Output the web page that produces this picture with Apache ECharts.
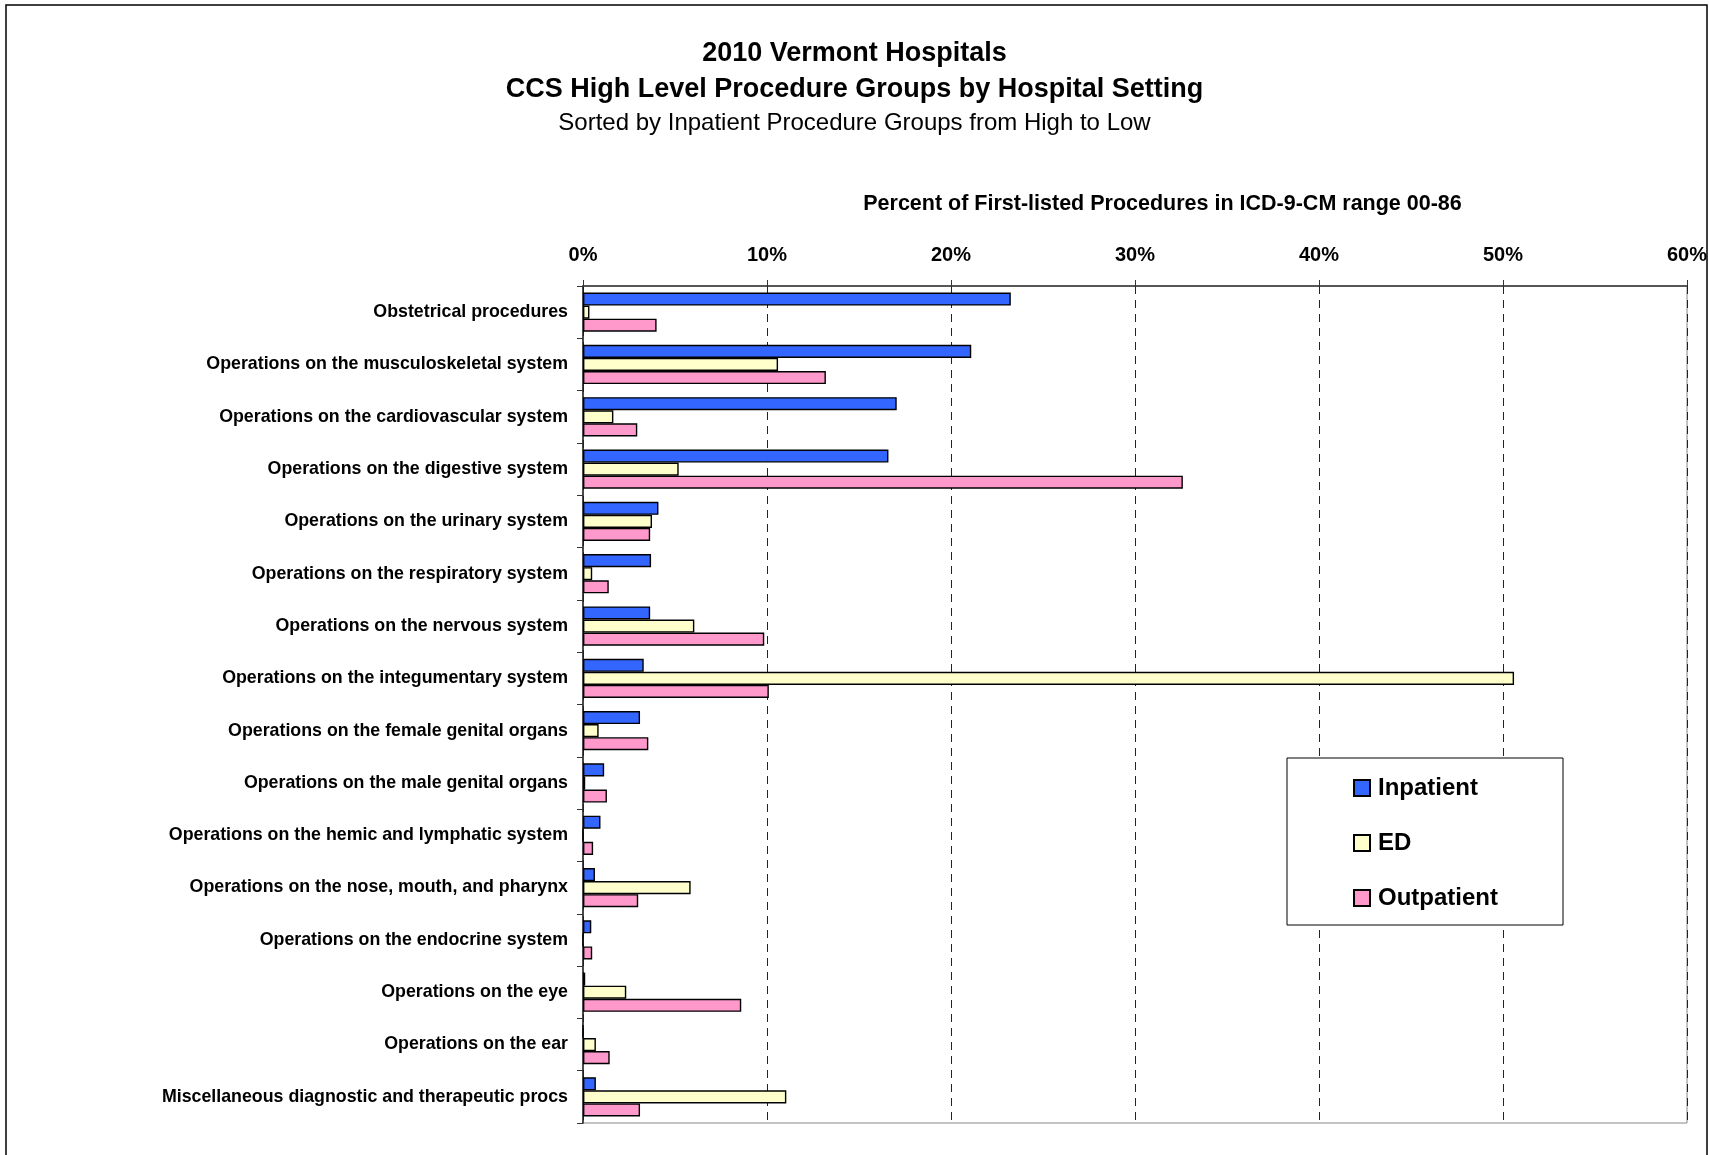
<!DOCTYPE html>
<html>
<head>
<meta charset="utf-8">
<title>2010 Vermont Hospitals - CCS Procedure Groups</title>
<script src="https://cdn.jsdelivr.net/npm/echarts@6/dist/echarts.min.js"></script>
<style>
  html, body { margin: 0; padding: 0; background: #fff; }
  #chart { width: 1709px; height: 1155px; }
</style>
</head>
<body>
<div id="chart"></div>
<script>
// procedure groups, sorted by inpatient share (high to low)
const categories = [
  'Obstetrical procedures',
  'Operations on the musculoskeletal system',
  'Operations on the cardiovascular system',
  'Operations on the digestive system',
  'Operations on the urinary system',
  'Operations on the respiratory system',
  'Operations on the nervous system',
  'Operations on the integumentary system',
  'Operations on the female genital organs',
  'Operations on the male genital organs',
  'Operations on the hemic and lymphatic system',
  'Operations on the nose, mouth, and pharynx',
  'Operations on the endocrine system',
  'Operations on the eye',
  'Operations on the ear',
  'Miscellaneous diagnostic and therapeutic procs'
];

// percent of first-listed procedures
const inpatient = [23.25, 21.1, 17.05, 16.6, 4.1, 3.7, 3.65, 3.3, 3.1, 1.15, 0.95, 0.65, 0.45, 0.12, 0, 0.7];
const ed = [0.35, 10.6, 1.65, 5.2, 3.75, 0.5, 6.05, 50.6, 0.85, 0.12, 0, 5.85, 0, 2.35, 0.7, 11.05];
const outpatient = [4.0, 13.2, 2.95, 32.6, 3.65, 1.4, 9.85, 10.1, 3.55, 1.3, 0.55, 3.0, 0.5, 8.6, 1.45, 3.1];

const seriesNames = ['Inpatient', 'ED', 'Outpatient'];
const seriesColors = ['#3366FF', '#FFFFCC', '#FF99CC'];

const FONT = 'Arial, "Liberation Sans", sans-serif';

const chart = echarts.init(document.getElementById('chart'));

const option = {
  animation: false,
  backgroundColor: '#fff',
  title: [
    {
      text: '2010 Vermont Hospitals',
      left: 'center',
      top: 33,
      textStyle: { fontFamily: FONT, fontSize: 27, fontWeight: 'bold', color: '#000', lineHeight: 32 }
    },
    {
      text: 'CCS High Level Procedure Groups by Hospital Setting',
      left: 'center',
      top: 69,
      textStyle: { fontFamily: FONT, fontSize: 27, fontWeight: 'bold', color: '#000', lineHeight: 32 }
    },
    {
      text: 'Sorted by Inpatient Procedure Groups from High to Low',
      left: 'center',
      top: 104,
      textStyle: { fontFamily: FONT, fontSize: 24, fontWeight: 'normal', color: '#000', lineHeight: 28 }
    }
  ],
  legend: {
    data: seriesNames,
    orient: 'vertical',
    left: 1353,
    top: 773,
    padding: 0,
    itemWidth: 16,
    itemHeight: 16,
    itemGap: 25,
    icon: 'rect',
    textStyle: { fontFamily: FONT, fontSize: 24, fontWeight: 'bold', color: '#000', lineHeight: 30, padding: [0, 0, 0, 3] }
  },
  graphic: [
    {
      type: 'rect',
      z: 3,
      shape: { x: 1287, y: 758, width: 276, height: 167 },
      style: { fill: '#fff', stroke: '#000', lineWidth: 1 }
    },
    {
      type: 'rect',
      z: 10,
      silent: true,
      shape: { x: 6, y: 5, width: 1701, height: 1200 },
      style: { fill: null, stroke: '#000', lineWidth: 1.5 }
    }
  ],
  grid: {
    left: 583,
    top: 286,
    width: 1104,
    height: 837,
    show: true,
    borderColor: '#888',
    borderWidth: 1,
    outerBoundsMode: 'none'
  },
  xAxis: {
    type: 'value',
    position: 'top',
    min: 0,
    max: 60,
    interval: 10,
    name: 'Percent of First-listed Procedures in ICD-9-CM range 00-86',
    nameLocation: 'middle',
    nameGap: 70,
    nameTextStyle: { fontFamily: FONT, fontSize: 21.5, fontWeight: 'bold', color: '#000', lineHeight: 24, padding: [0, 0, 0, 55] },
    axisLine: { show: true, lineStyle: { color: '#333', width: 1.5 } },
    axisTick: { show: true, length: 6, lineStyle: { color: '#333' } },
    axisLabel: { formatter: '{value}%', margin: 21, fontFamily: FONT, fontSize: 20, fontWeight: 'bold', color: '#000' },
    splitLine: { show: true, lineStyle: { color: '#222', type: [8, 6], width: 1 } }
  },
  yAxis: {
    type: 'category',
    data: categories,
    inverse: true,
    axisLine: { show: true, lineStyle: { color: '#222', width: 1.5 } },
    axisTick: { show: true, length: 6, lineStyle: { color: '#333' } },
    axisLabel: { margin: 15, fontFamily: FONT, fontSize: 17.8, fontWeight: 'bold', color: '#000' },
    splitLine: { show: false }
  },
  series: [inpatient, ed, outpatient].map((vals, i) => ({
    name: seriesNames[i],
    type: 'bar',
    data: vals,
    barGap: '0%',
    barCategoryGap: '25%',
    itemStyle: { color: seriesColors[i], borderColor: '#000', borderWidth: 1.4 }
  }))
};

chart.setOption(option);
window.onresize = function () {
  chart.resize();
};
</script>
</body>
</html>
